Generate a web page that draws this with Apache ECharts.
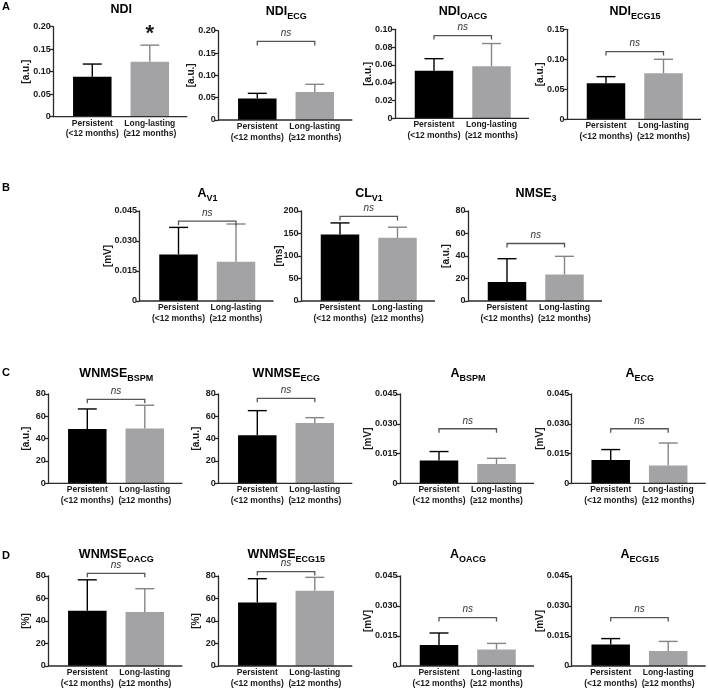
<!DOCTYPE html>
<html><head><meta charset="utf-8">
<script src="https://cdn.jsdelivr.net/npm/echarts@6/dist/echarts.min.js"></script>
<style>html,body{margin:0;padding:0;background:#fff}#c{width:708px;height:689px}</style>
</head><body><div id="c"></div>
<script>
// ---------- data ----------
const groups = ['Persistent\n(<12 months)', 'Long-lasting\n(≥12 months)'];
const titleMain = ['NDI','NDI','NDI','NDI','A','CL','NMSE','WNMSE','WNMSE','A','A','WNMSE','WNMSE','A','A'];
const titleSub  = ['','ECG','OACG','ECG15','V1','V1','3','BSPM','ECG','BSPM','ECG','OACG','ECG15','OACG','ECG15'];
const units = ['[a.u.]','[a.u.]','[a.u.]','[a.u.]','[mV]','[ms]','[a.u.]','[a.u.]','[a.u.]','[mV]','[mV]','[%]','[%]','[mV]','[mV]'];
const yMax  = [0.20, 0.20, 0.10, 0.15, 0.045, 200, 80, 80, 80, 0.045, 0.045, 80, 80, 0.045, 0.045];
const yStep = [0.05, 0.05, 0.02, 0.05, 0.015, 50, 20, 20, 20, 0.015, 0.015, 20, 20, 0.015, 0.015];
const yDecimals = [2, 2, 2, 2, 3, 0, 0, 0, 0, 3, 3, 0, 0, 3, 3];
const persistentMean = [0.089, 0.048, 0.0533, 0.060, 0.0233, 148, 17, 48.7, 43, 0.0115, 0.0117, 49.2, 56.4, 0.0105, 0.0108];
const persistentSD   = [0.028, 0.0117, 0.0137, 0.0111, 0.0135, 25.5, 20.6, 17.9, 22.1, 0.0045, 0.0053, 27.4, 21.2, 0.006, 0.0029];
const longMean = [0.122, 0.0627, 0.0585, 0.0767, 0.0196, 140.4, 23.6, 49, 54, 0.0097, 0.009, 48, 66.9, 0.0083, 0.0075];
const longSD   = [0.037, 0.0172, 0.0255, 0.0233, 0.0189, 23.6, 16.1, 20.9, 4.8, 0.0029, 0.0113, 20.7, 11.9, 0.003, 0.0048];
const significance = ['*','ns','ns','ns','ns','ns','ns','ns','ns','ns','ns','ns','ns','ns','ns'];
const sigLevel = [0.194, 0.176, 0.093, 0.1128, 0.0399, 188, 51.1, 75.2, 76.1, 0.0275, 0.0275, 82.4, 83.9, 0.0242, 0.0242];
const rowLetters = ['A','B','C','D'];

// ---------- layout (pixels) ----------
const axisX  = [53.3, 218.3, 395, 567, 139.5, 301, 468, 48.3, 218.3, 400, 571.7, 48.3, 218.3, 400, 571.7];
const axisTop  = [26.7, 30.7, 29.3, 29.3, 211, 211, 211, 394, 394, 394, 394, 576, 576, 576, 576];
const axisZero = [116.7, 120, 118.3, 119.3, 301, 301, 301, 483.3, 483.3, 483.3, 483.3, 666, 666, 666, 666];
const titleY = [10, 12, 12, 12, 194, 194, 194, 374, 374, 374, 374, 555, 555, 555, 555];
const letterY = [7, 188, 373, 556];
const FONT = '"Liberation Sans", Arial, sans-serif';
const INK = '#1a1a1a';
const AXIS = '#2a2a2a';
const barColors = ['#000000', '#a3a3a6'];
const errColors = ['#000000', '#858587'];
const gapLeft = 10.25, plotW = 115, axisLen = 134, barW = 38.5;

const grids = [], xAxes = [], yAxes = [], series = [], graphics = [];

for (let i = 0; i < titleMain.length; i++) {
  const dec = yDecimals[i];
  grids.push({ left: axisX[i] + gapLeft, top: axisTop[i], width: plotW, height: axisZero[i] - axisTop[i],
    containLabel: false, outerBoundsMode: 'none' });
  xAxes.push({ gridIndex: i, type: 'category', data: groups,
    axisLine: { show: false }, axisTick: { show: false },
    axisLabel: { interval: 0, margin: 1.5, fontSize: 8.5, lineHeight: 10.5, fontWeight: 'bold', color: INK, fontFamily: FONT } });
  const nameDist = dec === 3 ? 32.5 : (dec === 2 ? 28 : 23);
  yAxes.push({ gridIndex: i, type: 'value', min: 0, max: yMax[i], interval: yStep[i], offset: gapLeft,
    splitLine: { show: false },
    axisLine: { show: true, lineStyle: { color: AXIS, width: 1.3 } },
    axisTick: { show: true, length: 3.5, lineStyle: { color: AXIS, width: 1.3 } },
    axisLabel: { margin: 2.5, fontSize: 9, fontWeight: 'bold', color: INK, fontFamily: FONT,
      formatter: v => v === 0 ? '0' : v.toFixed(dec) },
    name: units[i], nameLocation: 'middle', nameRotate: 90, nameGap: nameDist - 6, nameMoveOverlap: false,
    nameTextStyle: { fontSize: 10, fontWeight: 'bold', color: INK, fontFamily: FONT } });

  series.push({ type: 'bar', xAxisIndex: i, yAxisIndex: i, barWidth: barW, silent: true,
    data: [
      { value: persistentMean[i], itemStyle: { color: barColors[0] } },
      { value: longMean[i], itemStyle: { color: barColors[1] } }
    ] });

  series.push({ type: 'custom', xAxisIndex: i, yAxisIndex: i, silent: true, clip: false, z: 3,
    data: [[0, persistentMean[i], persistentMean[i] + persistentSD[i]],
           [1, longMean[i], longMean[i] + longSD[i]]],
    encode: { x: 0, y: [1, 2] },
    renderItem: (params, api) => {
      const k = api.value(0);
      const b = api.coord([k, api.value(1)]);
      const t = api.coord([k, api.value(2)]);
      const st = { stroke: errColors[params.dataIndex], lineWidth: 1.4, fill: null };
      return { type: 'group', children: [
        { type: 'line', shape: { x1: b[0], y1: b[1], x2: t[0], y2: t[1] }, style: st },
        { type: 'line', shape: { x1: t[0] - 9.5, y1: t[1], x2: t[0] + 9.5, y2: t[1] }, style: st }
      ] };
    } });

  series.push({ type: 'custom', xAxisIndex: i, yAxisIndex: i, silent: true, clip: false, z: 4,
    data: [[0, sigLevel[i]]],
    encode: { x: 0, y: 1 },
    renderItem: (params, api) => {
      const lvl = api.value(1);
      const p0 = api.coord([0, lvl]);
      const p1 = api.coord([groups.length - 1, lvl]);
      if (significance[i] === '*') {
        return { type: 'text', style: { text: '*', x: p1[0], y: p1[1] + 5, align: 'center', verticalAlign: 'middle',
          textAlign: 'center', textVerticalAlign: 'middle', font: 'bold 22px ' + FONT, fill: INK } };
      }
      return { type: 'group', children: [
        { type: 'polyline', shape: { points: [[p0[0], p0[1] + 4], p0, p1, [p1[0], p1[1] + 4]] },
          style: { stroke: '#555', lineWidth: 1.3, fill: null } },
        { type: 'text', style: { text: significance[i], x: (p0[0] + p1[0]) / 2, y: p0[1] - 8,
          align: 'center', verticalAlign: 'middle', textAlign: 'center', textVerticalAlign: 'middle',
          font: 'italic 10px ' + FONT, fill: '#333' } }
      ] };
    } });

  // x-axis baseline, starting at the y-axis
  graphics.push({ type: 'line', z: 50, silent: true,
    shape: { x1: axisX[i], y1: axisZero[i], x2: axisX[i] + axisLen, y2: axisZero[i] },
    style: { stroke: AXIS, lineWidth: 1.3 } });

  // panel title with subscript
  const txt = titleSub[i] ? `{m|${titleMain[i]}}{s|${titleSub[i]}}` : `{m|${titleMain[i]}}`;
  graphics.push({ type: 'text', z: 50, silent: true, x: axisX[i] + 68, y: titleY[i],
    style: { text: txt, align: 'center', verticalAlign: 'middle', textAlign: 'center', textVerticalAlign: 'middle', fill: '#000',
      rich: {
        m: { fontSize: 12.5, fontWeight: 'bold', fontFamily: FONT, lineHeight: 18, fill: '#000' },
        s: { fontSize: 9, fontWeight: 'bold', fontFamily: FONT, lineHeight: 9, verticalAlign: 'bottom', fill: '#000' }
      } } });
}

rowLetters.forEach((L, r) => {
  graphics.push({ type: 'text', z: 50, silent: true, x: 6, y: letterY[r],
    style: { text: L, align: 'center', verticalAlign: 'middle', textAlign: 'center', textVerticalAlign: 'middle',
      font: 'bold 11px ' + FONT, fill: '#000' } });
});

const chart = echarts.init(document.getElementById('c'), null, { renderer: 'canvas' });
chart.setOption({
  animation: false,
  backgroundColor: '#ffffff',
  grid: grids, xAxis: xAxes, yAxis: yAxes, series: series, graphic: graphics
});
</script>
</body></html>
